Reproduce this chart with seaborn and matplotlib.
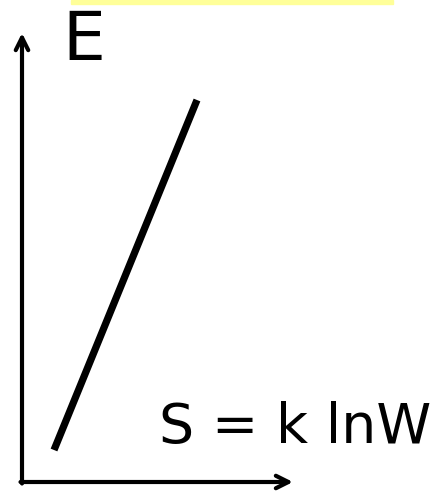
import seaborn as sns
import matplotlib.pyplot as plt
import pandas as pd

# entropy (S) vs energy (E), arbitrary units
entropy = [32, 175]
energy = [32, 382]
x_label = "S = k lnW"
y_label = "E"

sns.set_style("white")
plt.rcParams['font.family'] = ['DejaVu Sans']

fig = plt.figure(figsize=(4.44, 4.97), dpi=100)
ax = fig.add_axes([0, 0, 1, 1])
ax.set_xlim(-22, 422)
ax.set_ylim(-15, 482)
ax.axis('off')

df = pd.DataFrame({"S": entropy, "E": energy})
sns.lineplot(data=df, x="S", y="E", color="black", linewidth=5.2,
             solid_capstyle="butt", ax=ax)

# axes drawn as arrows
arrow = dict(arrowstyle="->,head_length=0.9,head_width=0.45", color="black",
             lw=3, shrinkA=0, shrinkB=0)
ax.annotate("", xy=(0, 449), xytext=(0, -1.5), arrowprops=arrow)
ax.annotate("", xy=(271, 0), xytext=(-1.5, 0), arrowprops=arrow)

ax.text(40, 422, y_label, fontsize=49, color="black", ha="left", va="baseline")
ax.text(137, 39, x_label, fontsize=40, color="black", ha="left", va="baseline")

# yellow highlight bar at the top
ax.add_patch(plt.Rectangle((49, 478), 322, 4.5, color="#ffff99", clip_on=False))

fig.savefig("out.png", dpi=100)
